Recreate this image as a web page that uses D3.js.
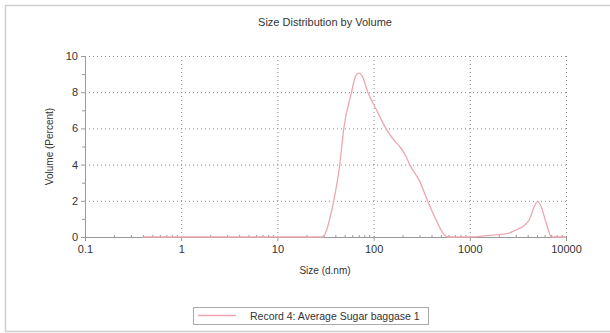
<!DOCTYPE html>
<html>
<head>
<meta charset="utf-8">
<script src="https://cdn.jsdelivr.net/npm/d3@7"></script>
<style>
  body { margin: 0; background: #fff; }
  text { font-family: "Liberation Sans", Arial, sans-serif; fill: #333; }
</style>
</head>
<body>
<svg id="chart"></svg>
<script>
// size distribution
const sizes = [0.4, 1, 10, 25, 30, 32, 35, 38.5, 44.5, 49, 59, 65, 70, 76, 87, 110, 134, 160, 187, 215, 237, 300, 364, 450, 520, 588, 1000, 1500, 2500, 3060, 3600, 4150, 4700, 5060, 5500, 6200, 7080, 10000];
const volumes = [0, 0, 0, 0, 0, 0.3, 1.0, 2, 4, 6, 8, 8.9, 9.05, 8.9, 8, 6.9, 6, 5.4, 5.0, 4.5, 4, 3.1, 2, 0.9, 0.25, 0, 0, 0.08, 0.2, 0.4, 0.6, 0.95, 1.7, 1.95, 1.7, 0.8, 0, 0];

const xTicks = [0.1, 1, 10, 100, 1000, 10000];
const yTicks = [0, 2, 4, 6, 8, 10];
const yMinor = [1, 3, 5, 7, 9];

const title = "Size Distribution by Volume";
const xTitle = "Size (d.nm)";
const yTitle = "Volume (Percent)";
const seriesName = "Record 4: Average Sugar baggase 1";

const width = 610;
const height = 333;
const pLeft = 85, pTop = 56, pRight = 566, pBottom = 237;
const lineColor = "#eda7b0";

const svg = d3.select("#chart").attr("width", width).attr("height", height);

// outer frame
svg.append("rect")
  .attr("x", 5.5).attr("y", 5.5)
  .attr("width", 620).attr("height", 326)
  .attr("fill", "none").attr("stroke", "#cfcfcf").attr("stroke-width", 1.5);

const x = d3.scaleLog().domain([0.1, 10000]).range([pLeft, pRight]);
const y = d3.scaleLinear().domain([0, 10]).range([pBottom, pTop]);

// minor x ticks 2..9 per decade
const xMinor = [];
for (let d = 0.1; d < 10000; d *= 10) {
  for (let k = 2; k <= 9; k++) xMinor.push(+(d * k).toPrecision(3));
}

// gridlines
svg.append("g")
  .attr("transform", `translate(0,${pTop})`)
  .call(d3.axisTop(x).tickValues(xTicks.slice(1)).tickSize(-(pBottom - pTop)).tickFormat(""))
  .call(g => g.select(".domain").remove())
  .call(g => g.selectAll("line").attr("stroke", "#8a8a8a").attr("stroke-dasharray", "1,3"));

svg.append("g")
  .attr("transform", `translate(${pLeft},0)`)
  .call(d3.axisLeft(y).tickValues(yTicks.slice(1)).tickSize(-(pRight - pLeft)).tickFormat(""))
  .call(g => g.select(".domain").remove())
  .call(g => g.selectAll("line").attr("stroke", "#8a8a8a").attr("stroke-dasharray", "1,3"));

// y axis
svg.append("g")
  .attr("transform", `translate(${pLeft},0)`)
  .call(d3.axisLeft(y).tickValues(yMinor).tickSize(3).tickFormat(""))
  .call(g => g.select(".domain").remove())
  .call(g => g.selectAll("line").attr("stroke", "#999"));

svg.append("g")
  .attr("transform", `translate(${pLeft},0)`)
  .call(d3.axisLeft(y).tickValues(yTicks).tickSize(4).tickPadding(3))
  .call(g => g.select(".domain").attr("stroke", "#999"))
  .call(g => g.selectAll("line").attr("stroke", "#999"))
  .call(g => g.selectAll("text").attr("font-size", 11).style("fill", "#333"));

// x axis
svg.append("g")
  .attr("transform", `translate(0,${pBottom})`)
  .call(d3.axisTop(x).tickValues(xMinor).tickSize(2).tickFormat(""))
  .call(g => g.select(".domain").remove())
  .call(g => g.selectAll("line").attr("stroke", "#999"));

svg.append("g")
  .attr("transform", `translate(0,${pBottom})`)
  .call(d3.axisBottom(x).tickValues(xTicks).tickSize(4).tickPadding(4).tickFormat(d => String(d)))
  .call(g => g.select(".domain").attr("stroke", "#999"))
  .call(g => g.selectAll("line").attr("stroke", "#999"))
  .call(g => g.selectAll("text").attr("font-size", 11).style("fill", "#333"));

// curve
const line = d3.line()
  .x((d, i) => x(sizes[i]))
  .y(d => y(d))
  .curve(d3.curveMonotoneX);

svg.append("path")
  .datum(volumes)
  .attr("d", line)
  .attr("fill", "none")
  .attr("stroke", lineColor)
  .attr("stroke-width", 1.3);

// titles
svg.append("text")
  .attr("x", 325).attr("y", 26)
  .attr("text-anchor", "middle").attr("font-size", 11)
  .text(title);

svg.append("text")
  .attr("x", 325).attr("y", 274)
  .attr("text-anchor", "middle").attr("font-size", 10)
  .text(xTitle);

svg.append("text")
  .attr("transform", `translate(53,${(pTop + pBottom) / 2}) rotate(-90)`)
  .attr("text-anchor", "middle").attr("font-size", 10)
  .text(yTitle);

// legend
const lg = svg.append("g").attr("transform", "translate(193,307)");
lg.append("rect")
  .attr("x", 0.5).attr("y", 0.5).attr("width", 235).attr("height", 17)
  .attr("fill", "#fff").attr("stroke", "#aaa");
lg.append("line")
  .attr("x1", 5).attr("x2", 43).attr("y1", 8.5).attr("y2", 8.5)
  .attr("stroke", lineColor).attr("stroke-width", 1.3);
lg.append("text")
  .attr("x", 57).attr("y", 13).attr("font-size", 10.5)
  .text(seriesName);
</script>
</body>
</html>
